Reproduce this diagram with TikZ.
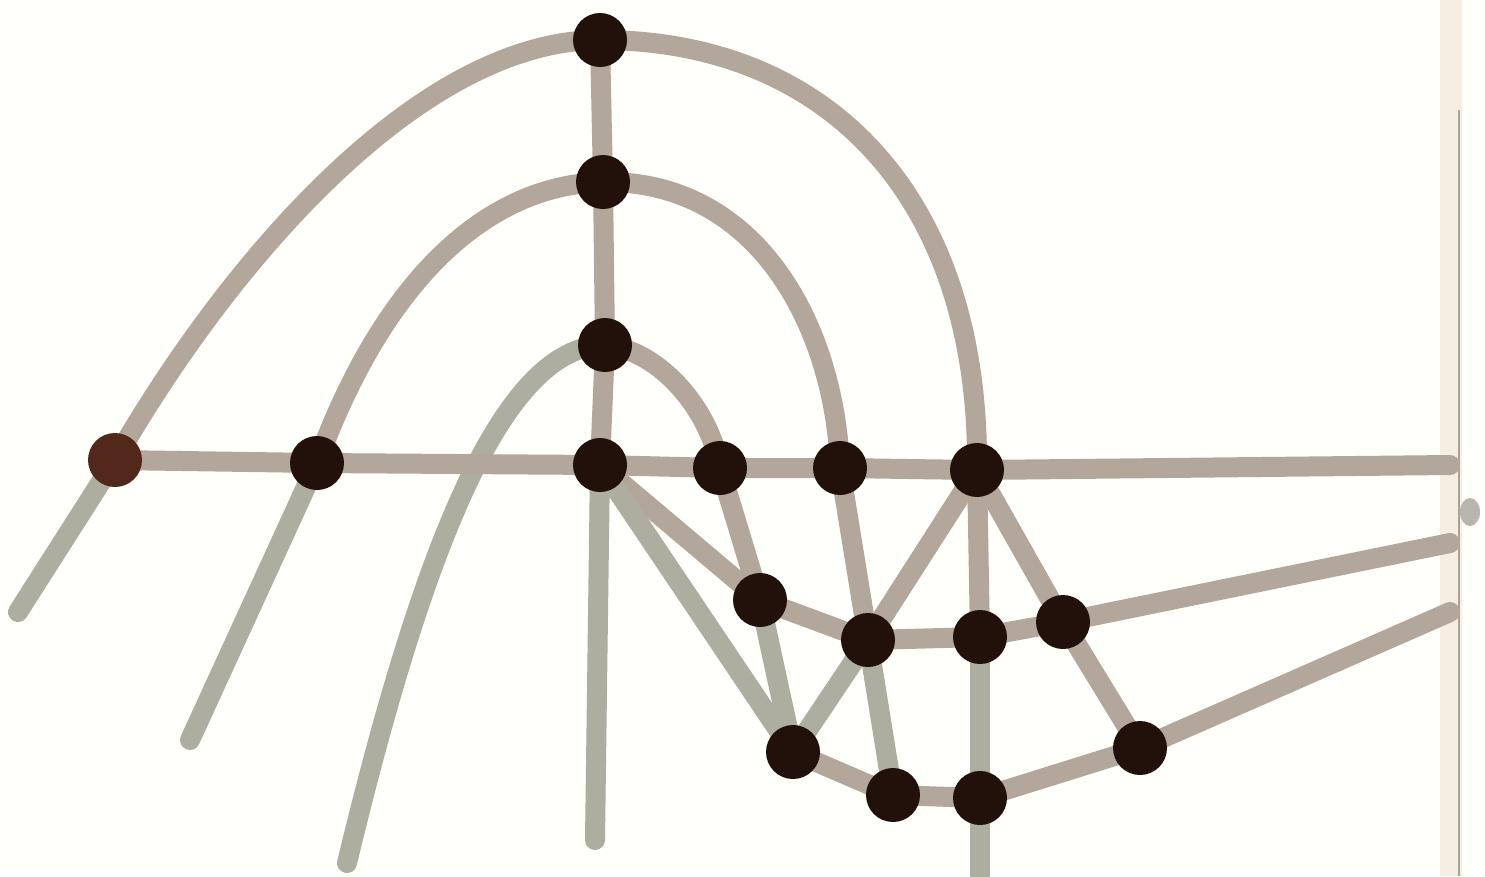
\documentclass[tikz,border=0pt]{standalone}
\usetikzlibrary{backgrounds}
\definecolor{crayonb}{HTML}{B3A79B}
\definecolor{crayong}{HTML}{ADAE9F}
\definecolor{ink}{HTML}{22110B}
\definecolor{inkred}{HTML}{52281A}
\definecolor{paper}{HTML}{FFFFFC}
\definecolor{fold}{HTML}{F7EEE2}
\definecolor{foldline}{HTML}{A8A49C}
\tikzset{
  dot/.style={circle, fill=ink, minimum size=54pt, inner sep=0pt},
  stroke/.style={draw=crayonb, line width=20pt, line cap=round, line join=round},
  strokeg/.style={draw=crayong, line width=20pt, line cap=round, line join=round},
}
\begin{document}
\begin{tikzpicture}[x=1pt,y=-1pt]
\useasboundingbox (0,0) rectangle (1485,876);
% dots
\node[dot] (A) at (600,40) {};
\node[dot] (B) at (603,182) {};
\node[dot] (C) at (605,345) {};
\node[dot] (D) at (600,465) {};
\node[dot, fill=inkred] (E) at (115,460) {};
\node[dot] (F) at (317,463) {};
\node[dot] (G) at (720,468) {};
\node[dot] (H) at (840,468) {};
\node[dot] (I) at (977,470) {};
\node[dot] (J) at (760,600) {};
\node[dot] (K) at (868,640) {};
\node[dot] (L) at (980,637) {};
\node[dot] (M) at (1063,622) {};
\node[dot] (N) at (793,752) {};
\node[dot] (O) at (893,795) {};
\node[dot] (P) at (980,798) {};
\node[dot] (Q) at (1140,748) {};
% free ends
\coordinate (e1) at (18,612);
\coordinate (f1) at (190,740);
\coordinate (c1) at (347,863);
\coordinate (d1) at (595,840);
\coordinate (p1) at (980,885);
\coordinate (h1) at (1450,465);
\coordinate (m1) at (1450,543);
\coordinate (q1) at (1450,612);
\begin{scope}[on background layer]
\fill[paper] (0,0) rectangle (1485,876);
\fill[fold] (1440,0) rectangle (1462,876);
\draw[foldline, line width=1.5pt] (1459,110) -- (1459,876);
\fill[foldline!80] (1470,512) ellipse (10pt and 14pt);
% outer arc
\draw[strokeg] (e1) -- (E.center);
\draw[stroke] (E.center) .. controls (230,260) and (420,40) .. (A.center)
  .. controls (830,40) and (980,200) .. (I.center);
% middle arc
\draw[strokeg] (f1) -- (F.center);
\draw[stroke] (F.center) .. controls (380,290) and (480,185) .. (B.center)
  .. controls (760,180) and (835,330) .. (H.center);
\draw[stroke] (H.center) -- (K.center);
% inner arc
\draw[strokeg] (c1) .. controls (420,560) and (500,345) .. (C.center);
\draw[stroke] (C.center) .. controls (660,350) and (710,410) .. (G.center);
\draw[stroke] (G.center) -- (J.center);
\draw[strokeg] (J.center) -- (N.center);
% spine
\draw[stroke] (A.center) -- (B.center) -- (C.center) -- (D.center);
\draw[strokeg] (D.center) -- (d1);
% horizontal
\draw[stroke] (E.center) -- (F.center) -- (D.center) -- (G.center) -- (H.center) -- (I.center) -- (h1);
% diagonals from D
\draw[stroke] (D.center) -- (J.center) -- (K.center);
\draw[strokeg] (D.center) -- (N.center);
% lower net
\draw[strokeg] (N.center) -- (K.center);
\draw[strokeg] (K.center) -- (O.center);
\draw[stroke] (K.center) -- (I.center);
\draw[stroke] (I.center) -- (L.center);
\draw[stroke] (I.center) -- (M.center);
\draw[stroke] (K.center) -- (L.center) -- (M.center);
\draw[strokeg] (L.center) -- (P.center) -- (p1);
\draw[stroke] (N.center) -- (O.center) -- (P.center) -- (Q.center);
\draw[stroke] (M.center) -- (Q.center);
\draw[stroke] (M.center) -- (m1);
\draw[stroke] (Q.center) -- (q1);
\end{scope}
\end{tikzpicture}
\end{document}
